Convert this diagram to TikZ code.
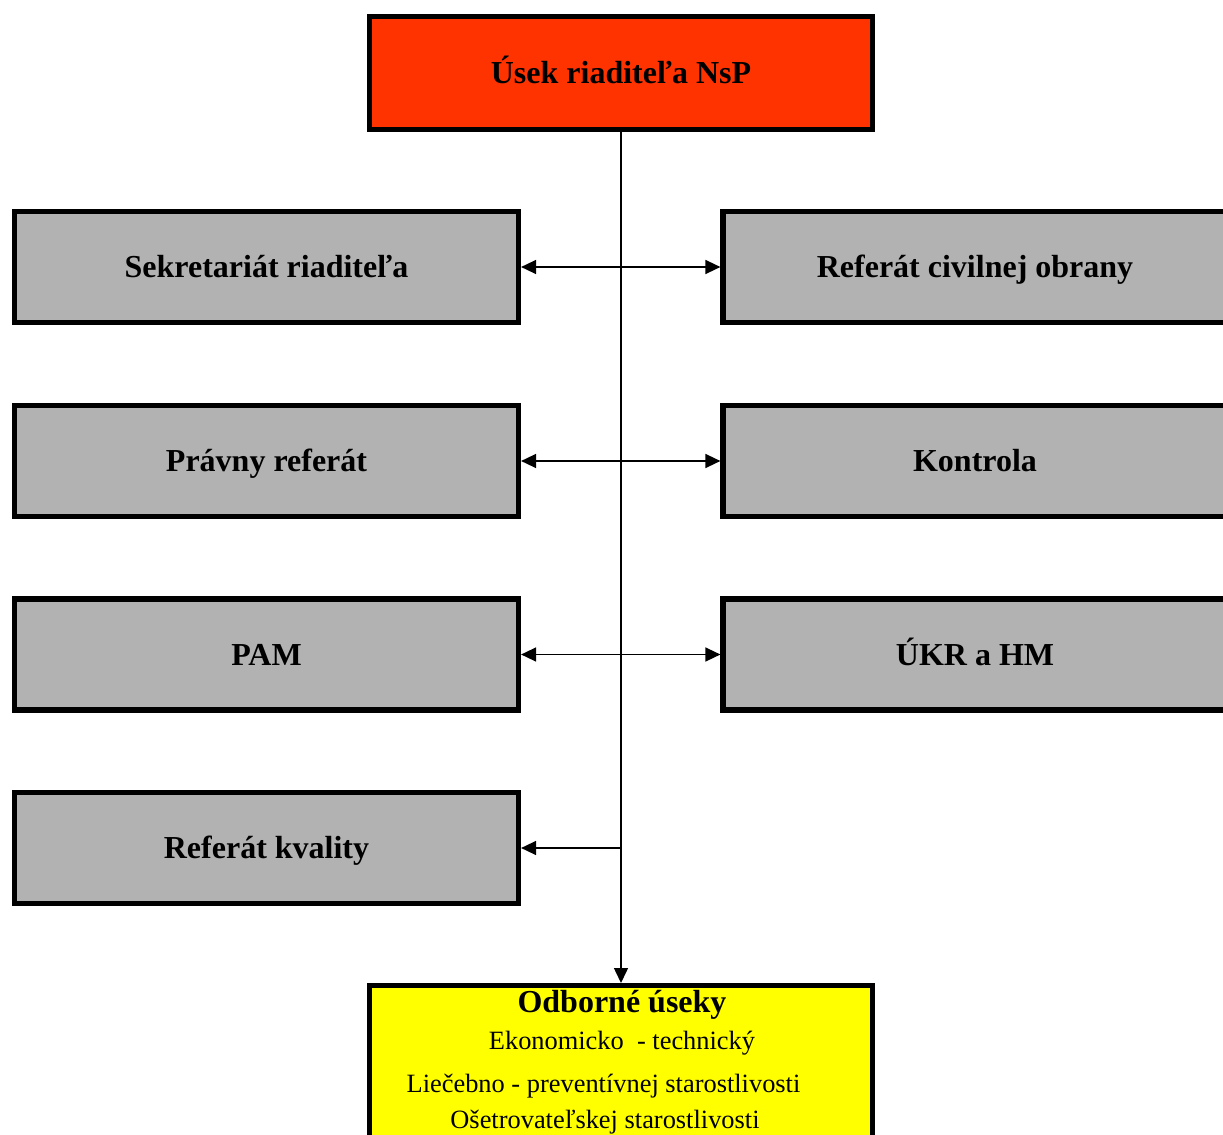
\documentclass[tikz,border=0pt]{standalone}
\usepackage{fontspec}
\setmainfont{Liberation Serif}
\usetikzlibrary{arrows.meta}
\definecolor{boxred}{HTML}{FF3300}
\definecolor{boxgrey}{HTML}{B2B2B2}
\definecolor{boxyellow}{HTML}{FFFF00}
\begin{document}
\begin{tikzpicture}[x=0.5pt,y=-0.5pt,
  unitbox/.style={draw=black,line width=2.6pt,rectangle,inner sep=0pt,
    text height=10.6pt,text depth=0pt,
    font=\fontsize{16}{19}\selectfont\bfseries},
  greybox/.style={unitbox,fill=boxgrey,minimum width=252pt,minimum height=55.5pt},
  link/.style={line width=0.75pt,-{Triangle[length=7.5pt,width=7pt]}},
  blink/.style={line width=0.75pt,{Triangle[length=7.5pt,width=7pt]}-{Triangle[length=7.5pt,width=7pt]}},
  subline/.style={anchor=base,inner sep=0pt,font=\fontsize{13.2}{15}\selectfont}]
\useasboundingbox (0,0) rectangle (1223,1135);
\clip (0,0) rectangle (1223,1135);
% top
\node[unitbox,fill=boxred,minimum width=251.5pt,minimum height=56.5pt] (top) at (621,73) {Úsek riaditeľa NsP};
% left column
\node[greybox] (s1) at (266.5,267) {Sekretariát riaditeľa};
\node[greybox] (s2) at (266.5,461) {Právny referát};
\node[greybox] (s3) at (266.5,654.5) {PAM};
\node[greybox] (s4) at (266.5,848) {Referát kvality};
% right column
\node[greybox] (r1) at (975,267) {Referát civilnej obrany};
\node[greybox] (r2) at (975,461) {Kontrola};
\node[greybox] (r3) at (975,654.5) {ÚKR a HM};
% bottom
\node[unitbox,fill=boxyellow,minimum width=251.5pt,minimum height=120pt,anchor=north] (odb) at (621,983) {};
\node[anchor=base,inner sep=0pt,font=\fontsize{16}{19}\selectfont\bfseries] (t0) at (622,1012) {Odborné úseky};
\node[subline] (t1) at (622,1049) {Ekonomicko\ \ - technický};
\node[subline] (t2) at (603.5,1092) {Liečebno - preventívnej starostlivosti};
\node[subline] (t3) at (605,1128) {Ošetrovateľskej starostlivosti};
% connectors
\draw[link] (top.south) -- (odb.north);
\draw[blink] (s1.east) -- (r1.west);
\draw[blink] (s2.east) -- (r2.west);
\draw[blink] (s3.east) -- (r3.west);
\coordinate (j4) at (621,848);
\draw[link] (j4) -- (s4.east);
\end{tikzpicture}
\end{document}
